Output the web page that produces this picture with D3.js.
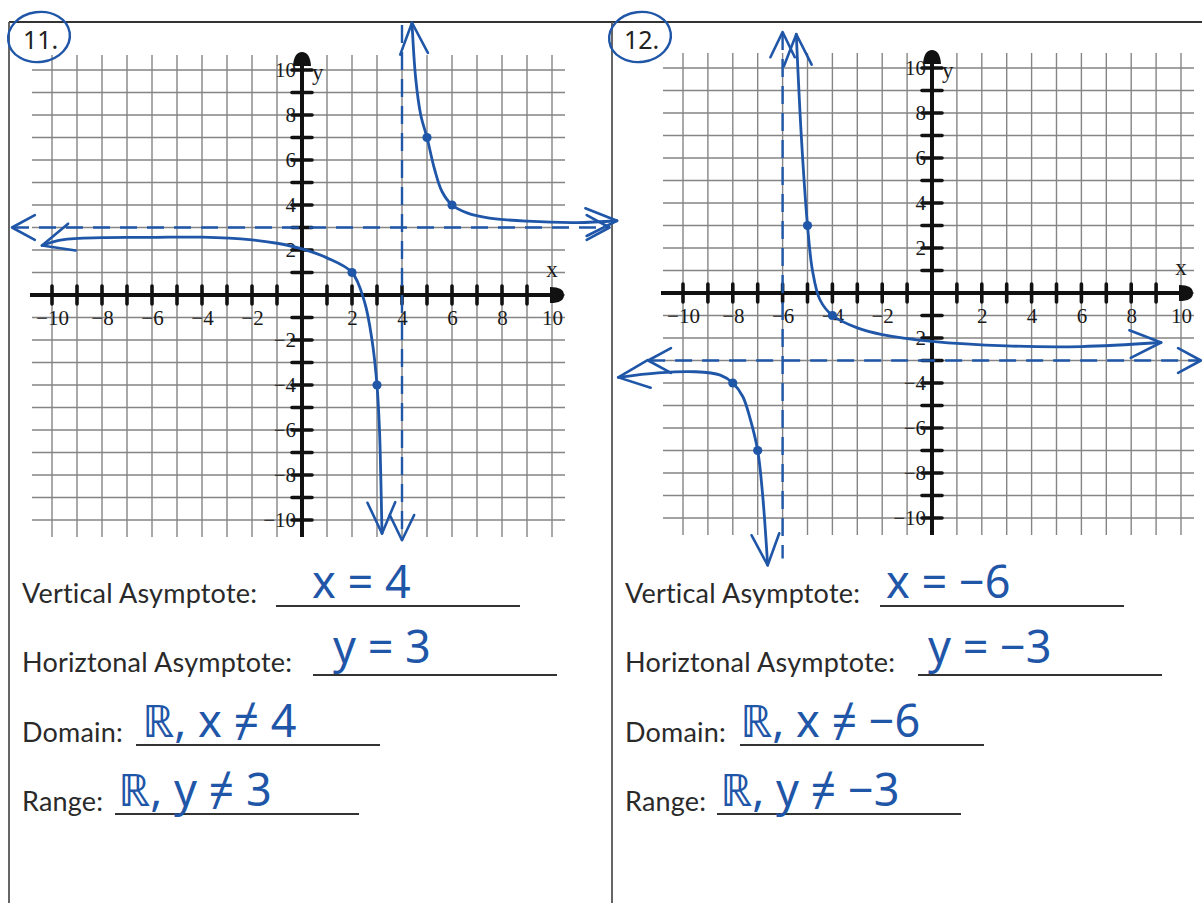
<!DOCTYPE html>
<html>
<head>
<meta charset="utf-8">
<script src="https://cdn.jsdelivr.net/npm/d3@7"></script>
<style>
  body { margin: 0; background: #fff; }
  svg { display: block; }
</style>
</head>
<body>
<svg id="sheet" width="1202" height="903"></svg>
<script>
// ---- worksheet data ----
const problemNumbers = ["11.", "12."];
const gridValues = d3.range(-10, 11);
const tickLabelValues = [-10, -8, -6, -4, -2, 2, 4, 6, 8, 10];

// asymptotes of each graph (x = a, y = b)
const verticalAsymptotes = [4, -6];
const horizontalAsymptotes = [3, -3];

// problem 11: sketched branches and plotted points
const p11Right = [[4.4, 12.1], [4.55, 9.6], [4.75, 8], [5, 7], [5.3, 5.6], [5.6, 4.6], [6, 4],
  [6.6, 3.65], [7.5, 3.42], [9, 3.28], [11, 3.22], [12.6, 3.3]];
const p11Left = [[-10.4, 2.2], [-9.6, 2.45], [-8, 2.55], [-6, 2.56], [-4, 2.57], [-2, 2.45],
  [-1, 2.3], [0, 2.05], [1, 1.65], [2, 1], [2.5, -0.3], [2.8, -2], [3, -4], [3.1, -6],
  [3.15, -8], [3.2, -10.6]];
const p11Points = [[2, 1], [3, -4], [5, 7], [6, 4]];

// problem 12: sketched branches and plotted points
const p12Right = [[-5.45, 11.5], [-5.25, 7], [-5, 3], [-4.8, 1], [-4.5, -0.3], [-4, -1],
  [-3, -1.55], [-2, -1.85], [0, -2.15], [3, -2.35], [6, -2.38], [9.2, -2.2]];
const p12Left = [[-12.6, -3.75], [-11, -3.55], [-9.5, -3.5], [-8.5, -3.65], [-8, -4],
  [-7.6, -4.6], [-7.3, -5.6], [-7, -7], [-6.8, -9], [-6.6, -12.1]];
const p12Points = [[-5, 3], [-4, -1], [-8, -4], [-7, -7]];

// extents of the dashed asymptote strokes (in graph units)
const hDashExtent = [[-11.6, 12.3], [-11.4, 10.8]];
const vDashExtent = [[12.0, -10.9], [11.6, -11.8]];

// questions written under each graph
const answerLabels = ["Vertical Asymptote:", "Horiztonal Asymptote:", "Domain:", "Range:"];

const ink = "#1f56a8";
const svg = d3.select("#sheet");

// sheet frame
svg.append("line").attr("x1", 9).attr("x2", 1202).attr("y1", 22).attr("y2", 22)
  .attr("stroke", "#333").attr("stroke-width", 2);
[9, 612].forEach(xx => svg.append("line").attr("x1", xx).attr("x2", xx)
  .attr("y1", 22).attr("y2", 903).attr("stroke", "#555").attr("stroke-width", 1.8));

function chevron(g, tip, from, len, spread) {
  const ang = Math.atan2(tip[1] - from[1], tip[0] - from[0]);
  const a1 = ang + Math.PI - spread, a2 = ang + Math.PI + spread;
  g.append("path")
    .attr("d", `M${tip[0] + len * Math.cos(a1)},${tip[1] + len * Math.sin(a1)}L${tip[0]},${tip[1]}L${tip[0] + len * Math.cos(a2)},${tip[1] + len * Math.sin(a2)}`)
    .attr("fill", "none").attr("stroke", ink).attr("stroke-width", 2.6)
    .attr("stroke-linecap", "round").attr("stroke-linejoin", "round");
}

function drawPanel(cfg) {
  const g = svg.append("g");
  const x = d3.scaleLinear().domain([-10, 10]).range(cfg.xr);
  const y = d3.scaleLinear().domain([-10, 10]).range(cfg.yr);
  const x0 = x(0), y0 = y(0);

  // grid
  g.append("g").selectAll("line").data(gridValues).join("line")
    .attr("x1", d => x(d)).attr("x2", d => x(d))
    .attr("y1", y(10) - 15).attr("y2", y(-10) + 17)
    .attr("stroke", "#858585").attr("stroke-width", 1.4);
  g.append("g").selectAll("line").data(gridValues).join("line")
    .attr("y1", d => y(d)).attr("y2", d => y(d))
    .attr("x1", x(-10) - 20).attr("x2", x(10) + 13)
    .attr("stroke", "#858585").attr("stroke-width", 1.4);

  // axis lines
  g.append("line").attr("x1", x(-10) - 22).attr("x2", x(10)).attr("y1", y0).attr("y2", y0)
    .attr("stroke", "#111").attr("stroke-width", 4);
  g.append("line").attr("x1", x0).attr("x2", x0).attr("y1", y(10) - 8).attr("y2", y(-10) + 17)
    .attr("stroke", "#111").attr("stroke-width", 4);
  g.append("path")
    .attr("d", `M${x0 - 9},${y(10) - 4}Q${x0 - 8},${y(10) - 18} ${x0},${y(10) - 18}Q${x0 + 8},${y(10) - 18} ${x0 + 9},${y(10) - 4}Z`)
    .attr("fill", "#111");
  g.append("path")
    .attr("d", `M${x(10) - 2},${y0 - 8}Q${x(10) + 12},${y0 - 8} ${x(10) + 12},${y0}Q${x(10) + 12},${y0 + 8} ${x(10) - 2},${y0 + 8}Z`)
    .attr("fill", "#111");

  // tick bars
  const nonZero = gridValues.filter(d => d !== 0);
  g.append("g").selectAll("line").data(nonZero.filter(d => d !== 10)).join("line")
    .attr("x1", d => x(d)).attr("x2", d => x(d)).attr("y1", y0 - 9).attr("y2", y0 + 9)
    .attr("stroke", "#111").attr("stroke-width", 3.6).attr("stroke-linecap", "round");
  g.append("g").selectAll("line").data(nonZero).join("line")
    .attr("y1", d => y(d)).attr("y2", d => y(d)).attr("x1", x0 - 10).attr("x2", x0 + 10)
    .attr("stroke", "#111").attr("stroke-width", 3.6).attr("stroke-linecap", "round");

  // tick labels
  const xa = g.append("g").attr("transform", `translate(0,${y0})`)
    .call(d3.axisBottom(x).tickValues(tickLabelValues).tickSize(0).tickPadding(15));
  const ya = g.append("g").attr("transform", `translate(${x0},0)`)
    .call(d3.axisLeft(y).tickValues(tickLabelValues).tickSize(0).tickPadding(6));
  [xa, ya].forEach(a => {
    a.select(".domain").remove();
    a.selectAll("text").attr("font-family", "Liberation Serif").attr("font-size", 21)
      .attr("fill", "#1a1a1a");
  });
  g.append("text").attr("x", x0 + 10).attr("y", y(10) + 10).text("y")
    .attr("font-family", "Liberation Serif").attr("font-size", 23).attr("fill", "#1a1a1a");
  g.append("text").attr("x", x(10)).attr("y", y0 - 18).attr("text-anchor", "middle").text("x")
    .attr("font-family", "Liberation Serif").attr("font-size", 23).attr("fill", "#1a1a1a");

  // dashed asymptotes
  const va = cfg.va, ha = cfg.ha;
  const hx = cfg.hExt, vy = cfg.vExt;
  g.append("line").attr("x1", x(hx[0])).attr("x2", x(hx[1])).attr("y1", y(ha)).attr("y2", y(ha))
    .attr("stroke", ink).attr("stroke-width", 2.6).attr("stroke-dasharray", "17 10");
  g.append("line").attr("x1", x(va)).attr("x2", x(va)).attr("y1", y(vy[0])).attr("y2", y(vy[1]))
    .attr("stroke", ink).attr("stroke-width", 2.4).attr("stroke-dasharray", "18 9");
  chevron(g, [x(hx[0]), y(ha)], [x(hx[0]) + 10, y(ha)], 26, 0.5);
  chevron(g, [x(hx[1]), y(ha)], [x(hx[1]) - 10, y(ha)], 26, 0.5);
  if (cfg.vArrow === "bottom") chevron(g, [x(va), y(vy[1])], [x(va), y(vy[1]) - 10], 28, 0.45);
  else chevron(g, [x(va), y(vy[0])], [x(va), y(vy[0]) + 10], 28, 0.45);

  // sketched branches
  const line = d3.line().x(d => x(d[0])).y(d => y(d[1])).curve(d3.curveCatmullRom.alpha(0.5));
  cfg.branches.forEach(b => {
    g.append("path").attr("d", line(b)).attr("fill", "none").attr("stroke", ink)
      .attr("stroke-width", 2.8).attr("stroke-linecap", "round");
    const p = b.map(d => [x(d[0]), y(d[1])]);
    chevron(g, p[0], p[1], 34, 0.42);
    chevron(g, p[p.length - 1], p[p.length - 2], 34, 0.42);
  });
  g.append("g").selectAll("circle").data(cfg.points).join("circle")
    .attr("cx", d => x(d[0])).attr("cy", d => y(d[1])).attr("r", 4.6).attr("fill", ink);

  // problem number
  svg.append("ellipse").attr("cx", cfg.num[0]).attr("cy", cfg.num[1]).attr("rx", 31).attr("ry", 25)
    .attr("fill", "none").attr("stroke", ink).attr("stroke-width", 2.4)
    .attr("transform", `rotate(-8,${cfg.num[0]},${cfg.num[1]})`);
  svg.append("text").attr("x", cfg.num[0] - 16).attr("y", cfg.num[1] + 12).text(cfg.label)
    .attr("font-family", "Noto Sans").attr("font-size", 25).attr("fill", "#222");

  // questions, blanks and written answers
  const rowsY = [603, 672, 742, 811];
  const fmt = v => (v < 0 ? "−" : "") + Math.abs(v);
  const answers = [`x = ${fmt(va)}`, `y = ${fmt(ha)}`, `ℝ, x ≠ ${fmt(va)}`, `ℝ, y ≠ ${fmt(ha)}`];
  answerLabels.forEach((lab, i) => {
    g.append("text").attr("x", cfg.textX).attr("y", rowsY[i]).text(lab)
      .attr("font-family", "Lato").attr("font-size", 27).attr("letter-spacing", 0.2)
      .attr("fill", "#2a2a2a");
    const ux0 = cfg.blankX[i];
    g.append("line").attr("x1", ux0).attr("x2", ux0 + 244).attr("y1", rowsY[i] + 3).attr("y2", rowsY[i] + 3)
      .attr("stroke", "#333").attr("stroke-width", 1.8);
    g.append("text").attr("x", cfg.ansX[i]).attr("y", rowsY[i] - 5 + (i === 1 ? -4 : 0)).text(answers[i])
      .attr("font-family", "Noto Sans").attr("font-size", 45).attr("fill", ink);
  });
}

drawPanel({
  label: problemNumbers[0], num: [39, 37], xr: [52, 552], yr: [520, 70],
  va: verticalAsymptotes[0], ha: horizontalAsymptotes[0],
  hExt: hDashExtent[0], vExt: vDashExtent[0], vArrow: "bottom",
  branches: [p11Right, p11Left], points: p11Points,
  textX: 22, blankX: [276, 313, 136, 115], ansX: [312, 333, 142, 118]
});
drawPanel({
  label: problemNumbers[1], num: [640, 37], xr: [683, 1181], yr: [518, 68],
  va: verticalAsymptotes[1], ha: horizontalAsymptotes[1],
  hExt: hDashExtent[1], vExt: vDashExtent[1], vArrow: "top",
  branches: [p12Right, p12Left], points: p12Points,
  textX: 625, blankX: [880, 918, 740, 717], ansX: [886, 928, 740, 720]
});
</script>
</body>
</html>
